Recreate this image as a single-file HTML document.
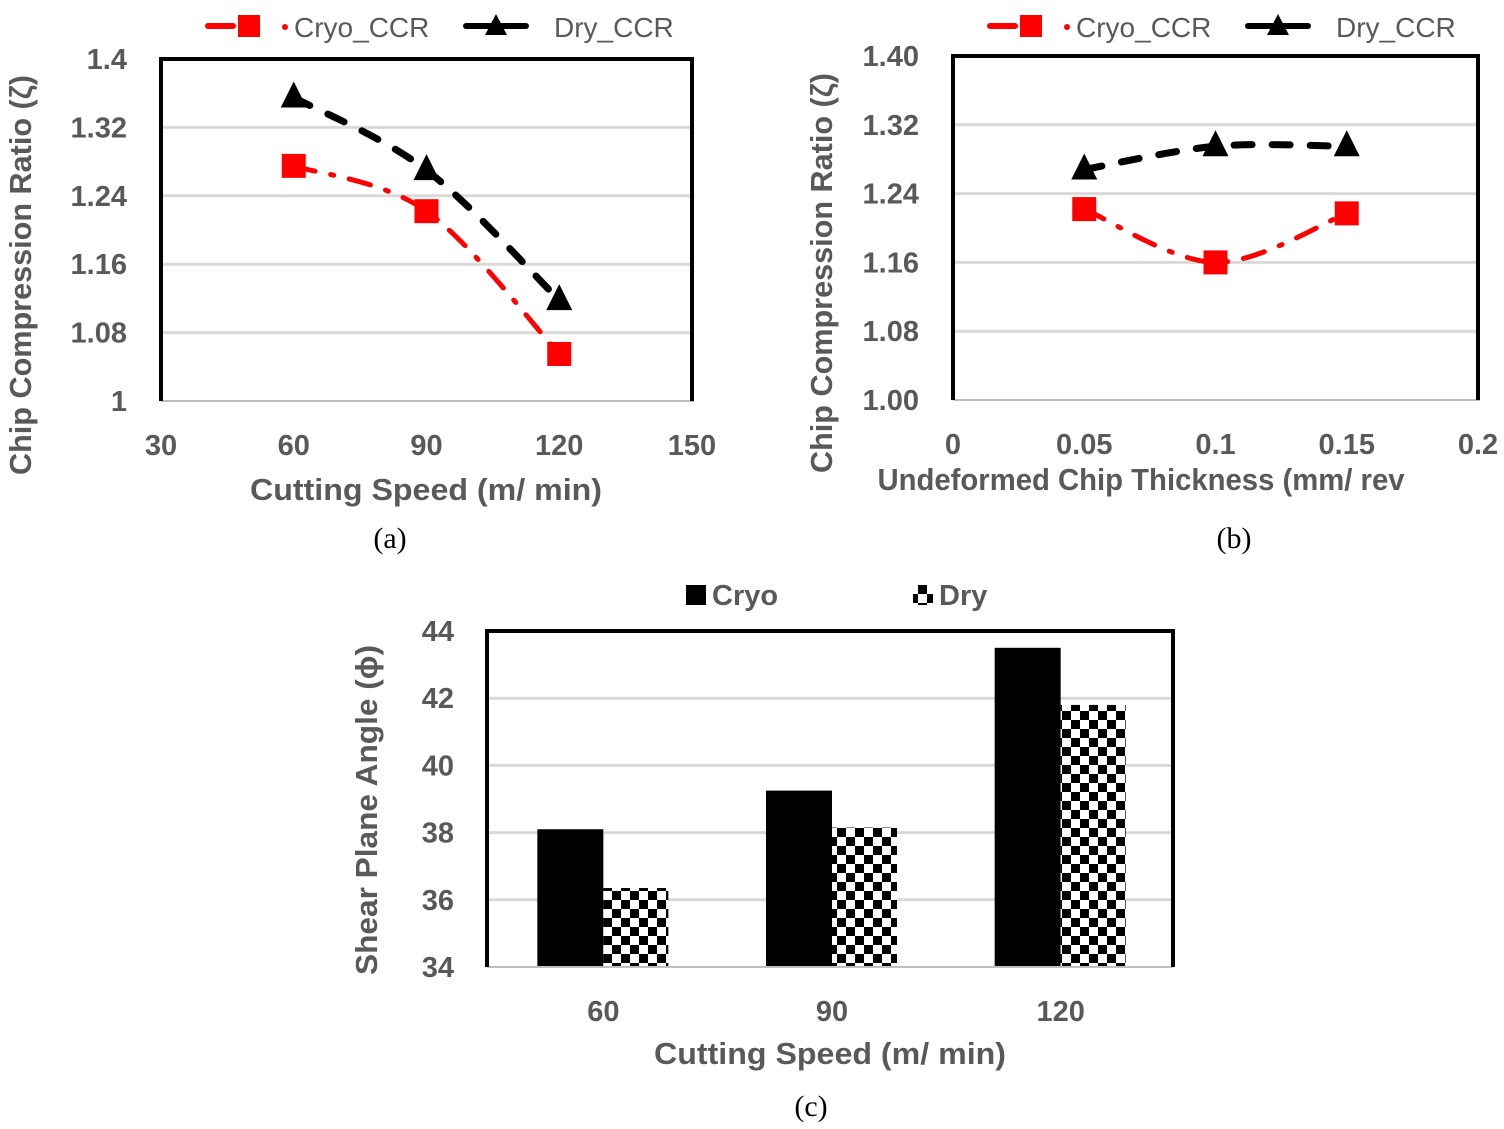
<!DOCTYPE html>
<html><head><meta charset="utf-8"><style>
body{margin:0;background:#fff}
svg{display:block}
text{font-family:"Liberation Sans",sans-serif}
.tk{font-size:29px;font-weight:bold;fill:#595959}
.at{font-size:31px;font-weight:bold;fill:#595959}
.lg{font-size:28px;fill:#595959}
.cap{font-family:"Liberation Serif",serif;font-size:30px;fill:#000}
</style></head><body>
<svg id="s" width="1504" height="1129" viewBox="0 0 1504 1129" xmlns="http://www.w3.org/2000/svg">
<defs>
<pattern id="chk" width="18" height="18" patternUnits="userSpaceOnUse" x="603" y="0">
<rect width="18" height="18" fill="#fff"/><rect width="9" height="9" fill="#000"/><rect x="9" y="9" width="9" height="9" fill="#000"/>
</pattern>
</defs>
<g id="ga"></g>
<g id="gb"></g>
<g id="gc"></g>
<text class="cap" x="390" y="548" text-anchor="middle">(a)</text>
<text class="cap" x="1234" y="548" text-anchor="middle">(b)</text>
<text class="cap" x="811" y="1116" text-anchor="middle">(c)</text>
</svg>
<script>
// Chart (a)
const aX=[60,90,120];
const aCryo=[1.275,1.222,1.055];
const aDry=[1.355,1.27,1.118];
const aXTicks=[30,60,90,120,150];
const aYTicks=["1","1.08","1.16","1.24","1.32","1.4"];
// Chart (b)
const bX=[0.05,0.1,0.15];
const bCryo=[1.222,1.16,1.217];
const bDry=[1.268,1.295,1.295];
const bXTicks=["0","0.05","0.1","0.15","0.2"];
const bYTicks=["1.00","1.08","1.16","1.24","1.32","1.40"];
// Chart (c)
const cCats=["60","90","120"];
const cCryo=[38.1,39.25,43.5];
const cDry=[36.35,38.15,41.8];
const cYTicks=[34,36,38,40,42,44];

const NS="http://www.w3.org/2000/svg";
function mk(p,t,a,txt){const e=document.createElementNS(NS,t);for(const k in a)e.setAttribute(k,a[k]);if(txt!==undefined)e.textContent=txt;p.appendChild(e);return e;}
function smooth(pts){let d="M"+pts[0][0]+","+pts[0][1];for(let i=0;i<pts.length-1;i++){const p0=pts[Math.max(0,i-1)],p1=pts[i],p2=pts[i+1],p3=pts[Math.min(pts.length-1,i+2)];const c1=[p1[0]+(p2[0]-p0[0])/6,p1[1]+(p2[1]-p0[1])/6],c2=[p2[0]-(p3[0]-p1[0])/6,p2[1]-(p3[1]-p1[1])/6];d+=" C"+c1+" "+c2+" "+p2;}return d;}

function lineChart(g,o){
  const X=v=>o.L+(v-o.x0)/(o.x1-o.x0)*(o.R-o.L);
  const Y=v=>o.B-(v-o.y0)/(o.y1-o.y0)*(o.B-o.T);
  o.yt.forEach(t=>{const y=Y(+t);
    if(+t!==o.y0&&+t!==o.y1){const gl=mk(g,"line",{x1:o.L,x2:o.R,y1:y,y2:y,stroke:"#d9d9d9","stroke-width":3});
    }
    const tl=mk(g,"text",{class:"tk",x:o.L-34,y:y+10,"text-anchor":"end"},t);
    });
  o.xt.forEach(t=>{const tl=mk(g,"text",{class:"tk",x:X(+t),y:o.B+54,"text-anchor":"middle"},t);
    });
  const ax=mk(g,"line",{x1:o.L,x2:o.R+2,y1:o.B,y2:o.B,stroke:"#bfbfbf","stroke-width":2});
  
  const fr=mk(g,"path",{d:`M${o.L},${o.B} V${o.T} H${o.R} V${o.B}`,fill:"none",stroke:"#000","stroke-width":4});
  
  const cp=o.xs.map((v,i)=>[X(v),Y(o.cryo[i])]);
  const dp=o.xs.map((v,i)=>[X(v),Y(o.dry[i])]);
  const l1=mk(g,"path",{d:smooth(cp),fill:"none",stroke:"#ff0000","stroke-width":5,"stroke-dasharray":"22 16 3 16","stroke-linecap":"round"});
  
  const l2=mk(g,"path",{d:smooth(dp),fill:"none",stroke:"#000","stroke-width":7,"stroke-dasharray":"18 20","stroke-linecap":"round"});
  
  cp.forEach(p=>{const m=mk(g,"rect",{x:p[0]-12,y:p[1]-12,width:24,height:24,fill:"#ff0000"});
    });
  dp.forEach(p=>{const m=mk(g,"path",{d:`M${p[0]},${p[1]-16} L${p[0]+13},${p[1]+10} L${p[0]-13},${p[1]+10}Z`,fill:"#000"});
    });
  const lx=o.legX, ly=26;
  const a1=mk(g,"line",{x1:lx,x2:lx+25,y1:ly,y2:ly,stroke:"#f00","stroke-width":6,"stroke-linecap":"round"});
  
  const a2=mk(g,"rect",{x:lx+30,y:ly-11,width:22,height:22,fill:"#f00"});
  
  mk(g,"circle",{cx:lx+77,cy:ly+1,r:3,fill:"#f00"});
  const a3=mk(g,"text",{class:"lg",x:lx+86,y:ly+11},"Cryo_CCR");
  
  const dx=lx+258;
  const b1=mk(g,"line",{x1:dx,x2:dx+60,y1:ly,y2:ly,stroke:"#000","stroke-width":6,"stroke-linecap":"round"});
  
  const b2=mk(g,"path",{d:`M${dx+30},${ly-12} L${dx+41},${ly+9} L${dx+19},${ly+9}Z`,fill:"#000"});
  
  const b3=mk(g,"text",{class:"lg",x:dx+88,y:ly+11},"Dry_CCR");
  
  const xt=mk(g,"text",{class:"at",x:o.xtX,y:o.B+o.xtDy,"text-anchor":"middle","textLength":o.xtLen,"lengthAdjust":"spacingAndGlyphs"},o.xTitle);
  
  const yt=mk(g,"text",{class:"at",transform:`translate(${o.ytX},${(o.T+o.B)/2+45}) rotate(-90)`,"text-anchor":"middle","textLength":400,"lengthAdjust":"spacingAndGlyphs"},"Chip Compression Ratio (ζ)");
  
}
lineChart(document.getElementById("ga"),{L:161,R:692,T:59,B:401,x0:30,x1:150,y0:1,y1:1.4,xs:aX,cryo:aCryo,dry:aDry,xt:aXTicks,yt:aYTicks,legX:208,xTitle:"Cutting Speed (m/ min)",xtX:426,xtDy:99,xtLen:352,ytX:31});
lineChart(document.getElementById("gb"),{L:953,R:1478,T:56,B:400,x0:0,x1:0.2,y0:1,y1:1.4,xs:bX,cryo:bCryo,dry:bDry,xt:bXTicks,yt:bYTicks,legX:990,xTitle:"Undeformed Chip Thickness (mm/ rev",xtX:1141,xtDy:90,xtLen:527,ytX:832});

// Chart (c)
(function(){
  const g=document.getElementById("gc");
  const L=487,R=1173,T=631,B=967,y0=34,y1=44;
  const Y=v=>B-(v-y0)/(y1-y0)*(B-T);
  const step=(R-L)/3;
  const cx=i=>L+step*(i+0.5)+2;
  cYTicks.forEach(t=>{const y=Y(t);
    if(t!==y0&&t!==y1){const gl=mk(g,"line",{x1:L,x2:R,y1:y,y2:y,stroke:"#d9d9d9","stroke-width":3});
    }
    const tl=mk(g,"text",{class:"tk",x:L-33,y:y+10,"text-anchor":"end"},t);
    });
  cCats.forEach((c,i)=>{
    const b1=mk(g,"rect",{x:cx(i)-66,y:Y(cCryo[i]),width:66,height:B-Y(cCryo[i]),fill:"#000"});
    
    const b2=mk(g,"rect",{x:cx(i),y:Y(cDry[i]),width:65,height:B-Y(cDry[i]),fill:"url(#chk)"});
    
    const tl=mk(g,"text",{class:"tk",x:cx(i),y:B+54,"text-anchor":"middle"},c);
    
  });
  const ax=mk(g,"line",{x1:L,x2:R,y1:B,y2:B,stroke:"#bfbfbf","stroke-width":2});
  
  const fr=mk(g,"path",{d:`M${L},${B} V${T} H${R} V${B}`,fill:"none",stroke:"#000","stroke-width":4});
  
  const l1=mk(g,"rect",{x:686,y:585,width:20,height:20,fill:"#000"});
  
  const l2=mk(g,"text",{class:"at",x:712,y:605,style:"font-size:29px"},"Cryo");
  
  const l3=mk(g,"rect",{x:913,y:585,width:20,height:20,fill:"url(#chk)"});
  
  const l4=mk(g,"text",{class:"at",x:939,y:605,style:"font-size:29px"},"Dry");
  
  const xt=mk(g,"text",{class:"at",x:830,y:1064,"text-anchor":"middle","textLength":352,"lengthAdjust":"spacingAndGlyphs"},"Cutting Speed (m/ min)");
  
  const yt=mk(g,"text",{class:"at",transform:`translate(377,${(T+B)/2+11}) rotate(-90)`,"text-anchor":"middle","textLength":330,"lengthAdjust":"spacingAndGlyphs"},"Shear Plane Angle (ϕ)");
  
})();
</script>
</body></html>
